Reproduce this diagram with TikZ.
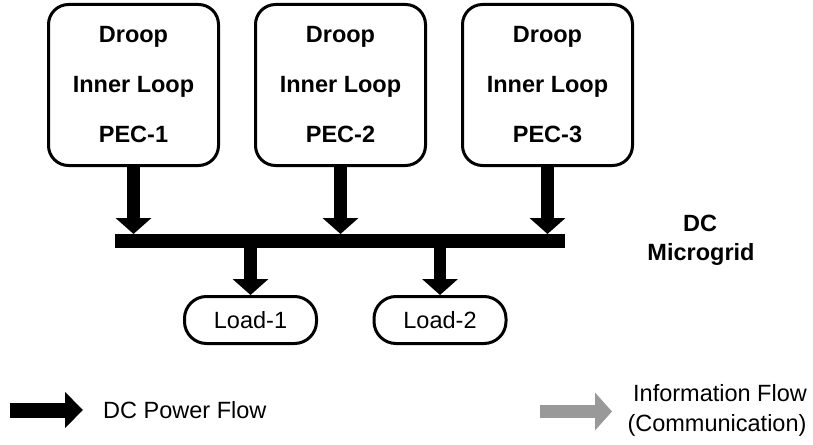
\documentclass[tikz,border=0pt]{standalone}
\usepackage{fontspec}
\setmainfont{Liberation Sans}
\usetikzlibrary{arrows.meta}
\definecolor{infogray}{RGB}{153,153,153}
\tikzset{
  pecbox/.style={draw, line width=3pt, rounded corners=20pt, minimum width=170pt, minimum height=161pt,
    align=center, font=\bfseries\fontsize{23.5}{50}\selectfont, inner sep=0pt},
  loadbox/.style={draw, line width=3pt, rounded corners=22pt, minimum width=132pt, minimum height=47pt,
    font=\fontsize{23.5}{28}\selectfont, inner sep=0pt},
  power/.style={line width=12.5pt, -{Triangle[width=35pt,length=16pt]}},
  legtext/.style={font=\fontsize{23.5}{28}\selectfont, inner sep=0pt},
}
\begin{document}
\begin{tikzpicture}[x=1pt,y=-1pt]
\useasboundingbox (0,0) rectangle (813,444);
\node[pecbox] (pec1) at (133.5,85) {Droop\\Inner Loop\\PEC-1};
\node[pecbox] (pec2) at (340.5,85) {Droop\\Inner Loop\\PEC-2};
\node[pecbox] (pec3) at (547.5,85) {Droop\\Inner Loop\\PEC-3};
\node[fill=black, minimum width=450pt, minimum height=14pt, inner sep=0pt, outer sep=0pt] (bus) at (340,241) {};
\node[loadbox] (load1) at (250.5,320) {Load-1};
\node[loadbox] (load2) at (440,320) {Load-2};
\draw[power] (pec1.south) -- (pec1.south |- bus.north);
\draw[power] (pec2.south) -- (pec2.south |- bus.north);
\draw[power] (pec3.south) -- (pec3.south |- bus.north);
\draw[power] (load1.north |- bus.south) -- (load1.north);
\draw[power] (load2.north |- bus.south) -- (load2.north);
\node[font=\bfseries\fontsize{23.5}{28}\selectfont, inner sep=0pt, anchor=base] (dc) at (700,231.5) {DC};
\node[font=\bfseries\fontsize{23.5}{28}\selectfont, inner sep=0pt, anchor=base] (mg) at (701,260.5) {Microgrid};
% legend
\coordinate (pa) at (10,410);
\coordinate (pb) at (83,410);
\draw[line width=15pt, -{Triangle[width=35pt,length=18pt]}] (pa) -- (pb);
\node[legtext, anchor=base west] (pf) at (103,418.5) {DC Power Flow};
\coordinate (ia) at (540,411.5);
\coordinate (ib) at (612,411.5);
\draw[infogray, line width=13pt, -{Triangle[width=37pt,length=17pt]}] (ia) -- (ib);
\node[legtext, anchor=base] (if1) at (720,401.5) {Information Flow};
\node[legtext, anchor=base] (if2) at (717,431.5) {(Communication)};
\end{tikzpicture}
\end{document}
